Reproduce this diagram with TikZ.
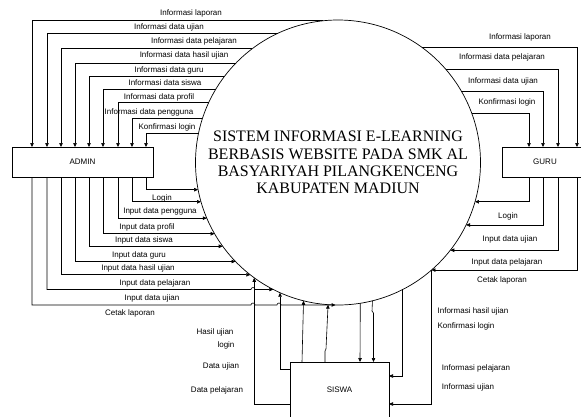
\documentclass[tikz,border=0pt]{standalone}
\usepackage{fontspec}
\setmainfont{Liberation Serif}
\setsansfont{Liberation Sans}
\usetikzlibrary{arrows.meta}

\tikzset{
  box/.style={draw, line width=.6pt, inner sep=0pt, outer sep=0pt, font=\sffamily\fontsize{8}{9}\selectfont},
  flow/.style={line width=.6pt, -{Triangle[length=4pt,width=3.5pt]}},
  lbl/.style={font=\sffamily\fontsize{8}{9}\selectfont, inner sep=0pt},
  proc/.style={circle, draw, line width=.7pt, minimum size=285pt, inner sep=0pt, outer sep=0pt, align=center, font=\fontsize{16}{17.3}\selectfont}
}

\begin{document}
\begin{tikzpicture}[x=1pt,y=-1pt]
	\useasboundingbox (0,0) rectangle (581,416);
	
	\node[proc] (sys) at (338,162.5) {SISTEM INFORMASI E-LEARNING\\BERBASIS WEBSITE PADA SMK AL\\BASYARIYAH PILANGKENCENG\\KABUPATEN MADIUN};
	\node[box, minimum width=141pt, minimum height=30pt] (admin) at (82.5,162) {ADMIN};
	\node[box, minimum width=86pt, minimum height=30pt] (guru) at (545,162) {GURU};
	\node[box, minimum width=99pt, minimum height=56pt] (siswa) at (339.5,390) {SISWA};
	
	% admin
	\foreach \y/\x/\t/\lx/\ly [count=\i] in {
		21/32/Informasi laporan/191/13,
		34/47/Informasi data ujian/169/27,
		49/61/Informasi data pelajaran/194/41,
		64/75/Informasi data hasil ujian/184/55,
		78/89/Informasi data guru/169/70,
		90/103/Informasi data siswa/165/83,
		104/118/Informasi data profil/159/97,
		119/132/Informasi data pengguna/149/112,
		135/146/Konfirmasi login/167/127}{
		\pgfmathsetmacro\ang{180-asin((162.5-\y)/142.5)}
		\draw[flow] (sys.\ang) -| (\x,0 |- admin.north);
		\node[lbl] (ainfo\i) at (\lx,\ly) {\t};
	}
	\foreach \x/\y/\t/\lx/\ly [count=\i] in {
		146/191/Login/162/198,
		132/204/Input data pengguna/160/211,
		118/219/Input data profil/147/227,
		103/234/Input data siswa/144/240,
		89/247/Input data guru/139/255,
		75/262/Input data hasil ujian/138/268,
		61/275/Input data pelajaran/155/283}{
		\pgfmathsetmacro\ang{180-asin((162.5-\y)/142.5)}
		\draw[flow] (\x,0 |- admin.south) |- (sys.\ang);
		\node[lbl] (ainput\i) at (\lx,\ly) {\t};
	}
	\pgfmathsetmacro\ang{180-asin((162.5-290)/142.5)}
	\coordinate (ujian) at (sys.\ang);
	\coordinate (cetak) at (sys.-91.5);
	\draw[flow] (47,0 |- admin.south) |- (251,0 |- ujian) arc[start angle=180,end angle=0,radius=2pt] -- (ujian);
	\draw[flow] (32,0 |- admin.south) |- (251,0 |- cetak) arc[start angle=180,end angle=0,radius=2pt]
		-- (277,0 |- cetak) arc[start angle=180,end angle=0,radius=2pt] -- (cetak);
	\node[lbl] (ainput8) at (152,298) {Input data ujian};
	\node[lbl] (ainput9) at (130,313) {Cetak laporan};
	
	% guru
	\foreach \y/\x/\t/\lx/\ly [count=\i] in {
		47/577/Informasi laporan/520/37,
		68/558/Informasi data pelajaran/502/57,
		91/543/Informasi data ujian/503/81,
		112/529/Konfirmasi login/507/102}{
		\pgfmathsetmacro\ang{asin((162.5-\y)/142.5)}
		\draw[flow] (sys.\ang) -| (\x,0 |- guru.north);
		\node[lbl] (ginfo\i) at (\lx,\ly) {\t};
	}
	\foreach \x/\y/\t/\lx/\ly [count=\i] in {
		529/204/Login/508/216,
		543/227/Input data ujian/510/239,
		558/251/Input data pelajaran/507/262,
		577/271/Cetak laporan/502/280}{
		\pgfmathsetmacro\ang{asin((162.5-\y)/142.5)}
		\draw[flow] (\x,0 |- guru.south) |- (sys.\ang);
		\node[lbl] (ginput\i) at (\lx,\ly) {\t};
	}
	
	% siswa
	\foreach \x/\y in {253/404, 279/369}{
		\pgfmathsetmacro\ang{-acos((\x-338)/142.5)}
		\draw[flow] (siswa.west |- 0,\y) -| (sys.\ang);
	}
	\pgfmathsetmacro\ang{-acos((302-338)/142.5)}
	\draw[flow] (302,0 |- siswa.north) -- (sys.\ang);
	\pgfmathsetmacro\ang{-acos((326-338)/142.5)}
	\draw[flow] (325,0 |- siswa.north) -- (325,351) -- (326,349) -- (sys.\ang);
	\pgfmathsetmacro\ang{-acos((360-338)/142.5)}
	\draw[flow] (sys.\ang) -- (360,0 |- siswa.north);
	\pgfmathsetmacro\ang{-acos((372-338)/142.5)}
	\draw[flow] (sys.\ang) -- (372,311) -- (373.5,313) -- (373.5,0 |- siswa.north);
	\foreach \x/\y in {401/376, 431/404}{
		\pgfmathsetmacro\ang{-acos((\x-338)/142.5)}
		\draw[flow] (sys.\ang) |- (siswa.east |- 0,\y);
	}
	\node[lbl] (sin1) at (215,332) {Hasil ujian};
	\node[lbl] (sin2) at (226,345) {login};
	\node[lbl] (sin3) at (221,366) {Data ujian};
	\node[lbl] (sin4) at (217,390) {Data pelajaran};
	\node[lbl] (sout1) at (473,311) {Informasi hasil ujian};
	\node[lbl] (sout2) at (466,326) {Konfirmasi login};
	\node[lbl] (sout3) at (476,368) {Informasi pelajaran};
	\node[lbl] (sout4) at (468,387) {Informasi ujian};
\end{tikzpicture}
\end{document}
